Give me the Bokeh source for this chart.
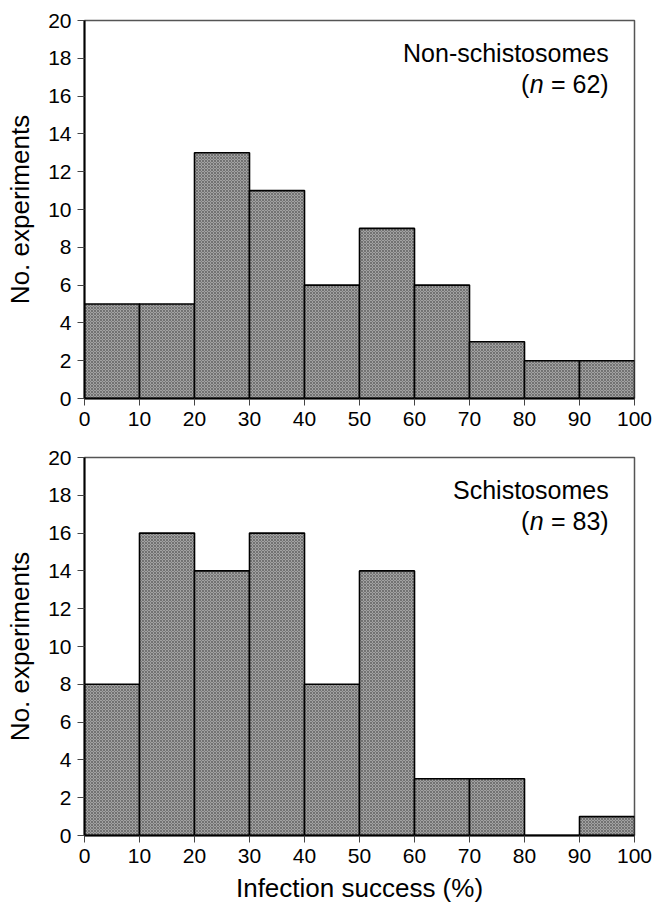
from bokeh.plotting import figure
from bokeh.layouts import column
from bokeh.models import ColumnDataSource, Range1d, FixedTicker, Label
from bokeh.embed import file_html
from bokeh.resources import INLINE

# ---- data ----
bin_edges = [0, 10, 20, 30, 40, 50, 60, 70, 80, 90, 100]
non_schistosomes = [5, 5, 13, 11, 6, 9, 6, 3, 2, 2]
schistosomes = [8, 16, 14, 16, 8, 14, 3, 3, 0, 1]
x_ticks = [0, 10, 20, 30, 40, 50, 60, 70, 80, 90, 100]
y_ticks = [0, 2, 4, 6, 8, 10, 12, 14, 16, 18, 20]
panel_names = ["Non-schistosomes", "Schistosomes"]
panel_n = ["62", "83"]

FONT = "Liberation Sans"


def make_panel(counts, name, n, top_border, bottom_border, show_xlabel):
    height = top_border + 378 + bottom_border
    p = figure(width=652, height=height, output_backend="svg", toolbar_location=None,
               x_range=Range1d(0, 100), y_range=Range1d(0, 20),
               min_border_left=84, min_border_right=18,
               min_border_top=top_border, min_border_bottom=bottom_border)
    p.frame_height = 378
    p.frame_width = 550
    src = ColumnDataSource(dict(left=bin_edges[:-1], right=bin_edges[1:],
                                top=counts, bottom=[0] * len(counts)))
    p.quad(left="left", right="right", top="top", bottom="bottom", source=src,
           fill_color="#a2a2a2", line_color="black", line_width=1.6,
           hatch_pattern="diagonal_cross", hatch_scale=3, hatch_weight=0.6,
           hatch_color="#444444", hatch_alpha=0.85)
    p.xgrid.visible = False
    p.ygrid.visible = False
    p.outline_line_color = "#555555"
    p.outline_line_width = 1.5
    p.background_fill_color = "white"
    p.border_fill_color = "white"

    for ax, ticks in ((p.xaxis[0], x_ticks), (p.yaxis[0], y_ticks)):
        ax.ticker = FixedTicker(ticks=ticks)
        ax.minor_tick_line_color = None
        ax.major_tick_in = 0
        ax.major_tick_out = 7
        ax.major_tick_line_color = "#444444"
        ax.major_tick_line_width = 1
        ax.axis_line_color = "black"
        ax.axis_line_width = 2
        ax.major_label_text_font = FONT
        ax.major_label_text_font_size = "21px"
        ax.major_label_text_color = "black"
        ax.major_label_standoff = 6
        ax.axis_label_text_font = FONT
        ax.axis_label_text_font_style = "normal"
        ax.axis_label_text_font_size = "26px"
        ax.axis_label_text_color = "black"

    p.yaxis.axis_label = "No. experiments"
    p.yaxis.axis_label_standoff = 10
    if show_xlabel:
        p.xaxis.axis_label = "Infection success (%)"
        p.xaxis.axis_label_standoff = 7

    # annotations (right-aligned)
    fs = "25px"
    x_right = 95.3
    p.add_layout(Label(x=x_right, y=18.3, text=name, text_align="right",
                       text_baseline="alphabetic", text_font=FONT, text_font_size=fs,
                       text_color="black"))
    p.add_layout(Label(x=x_right, y=16.65, text="= " + n + ")", text_align="right",
                       text_baseline="alphabetic", text_font=FONT, text_font_size=fs,
                       text_color="black"))
    p.add_layout(Label(x=x_right - 11.8, y=16.65, text="n", text_align="right",
                       text_baseline="alphabetic", text_font=FONT, text_font_size=fs,
                       text_font_style="italic", text_color="black"))
    p.add_layout(Label(x=x_right - 14.4, y=16.65, text="(", text_align="right",
                       text_baseline="alphabetic", text_font=FONT, text_font_size=fs,
                       text_color="black"))
    return p


p1 = make_panel(non_schistosomes, panel_names[0], panel_n[0], 20, 44, False)
p2 = make_panel(schistosomes, panel_names[1], panel_n[1], 15, 76, True)

layout = column(p1, p2, spacing=0)
open("out.html", "w").write(file_html(layout, INLINE))
